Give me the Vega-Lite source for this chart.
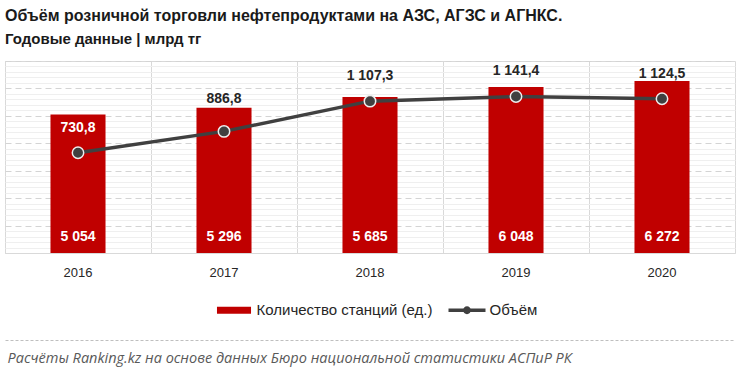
{
  "$schema": "https://vega.github.io/schema/vega-lite/v6.json",
  "width": 730,
  "height": 192,
  "autosize": {"type": "none"},
  "padding": {"left": 5, "top": 61, "right": 5, "bottom": 127},
  "background": "white",
  "title": {
    "text": "Объём розничной торговли нефтепродуктами на АЗС, АГЗС и АГНКС.",
    "subtitle": "Годовые данные | млрд тг",
    "anchor": "start",
    "frame": "group",
    "font": "Liberation Sans",
    "fontSize": 16,
    "fontWeight": "bold",
    "color": "#1a1a1a",
    "subtitleFont": "Liberation Sans",
    "subtitleFontSize": 15,
    "subtitleFontWeight": "bold",
    "subtitleColor": "#1a1a1a",
    "subtitlePadding": 8,
    "offset": 14
  },
  "data": {
    "values": [
      {"year": "2016", "stations": 5054, "volume": 730.8},
      {"year": "2017", "stations": 5296, "volume": 886.8},
      {"year": "2018", "stations": 5685, "volume": 1107.3},
      {"year": "2019", "stations": 6048, "volume": 1141.4},
      {"year": "2020", "stations": 6272, "volume": 1124.5}
    ]
  },
  "layer": [
    {
      "mark": {"type": "bar", "width": {"band": 0.377}},
      "encoding": {
        "x": {
          "field": "year", "type": "nominal",
          "scale": {"paddingInner": 0, "paddingOuter": 0},
          "axis": {"orient": "bottom", "title": null, "labelAngle": 0, "labelFontSize": 13, "labelColor": "#262626", "labelPadding": 13, "ticks": false, "domainColor": "#d9d9d9", "grid": false}
        },
        "y": {
          "field": "stations", "type": "quantitative",
          "scale": {"domain": [0, 7000], "nice": false, "zero": true},
          "axis": {"orient": "left", "title": null, "labels": false, "ticks": false, "domain": false, "grid": true, "values": [1000, 2000, 3000, 4000, 5000, 6000, 7000], "gridDash": [6, 4], "gridColor": "#d4d4d4"}
        },
        "color": {
          "datum": "Количество станций (ед.)", "type": "nominal",
          "scale": {"domain": ["Количество станций (ед.)", "Объём"], "range": ["#c00000", "#404040"]},
          "legend": {
            "orient": "none", "legendX": 210.5, "legendY": 230.5, "direction": "horizontal", "title": null,
            "labelFontSize": 15, "labelColor": "#262626", "labelLimit": 400, "symbolSize": 1369, "columnPadding": 16, "labelOffset": 4,
            "encode": {
              "symbols": {
                "update": {
                  "shape": {"signal": "datum.value === 'Объём' ? 'M-1,-0.09H1V0.09H-1Z M-0.21,0A0.21,0.21 0 1,1 0.21,0A0.21,0.21 0 1,1 -0.21,0Z' : 'M-0.92,-0.19H0.92V0.19H-0.92Z'"},
                  "fill": {"signal": "scale('color', datum.value)"},
                  "stroke": {"value": "transparent"},
                  "strokeWidth": {"value": 0},
                  "opacity": {"value": 1}
                }
              }
            }
          }
        }
      }
    },
    {
      "mark": {"type": "text", "color": "white", "fontWeight": "bold", "fontSize": 14, "baseline": "middle", "dy": -16},
      "encoding": {
        "x": {
          "field": "year", "type": "nominal",
          "axis": {"orient": "bottom", "offset": 87, "labels": false, "ticks": false, "grid": false, "domainDash": [3, 2], "domainColor": "#bfbfbf",
            "title": "Расчёты Ranking.kz на основе данных  Бюро национальной  статистики АСПиР РК",
            "titleAnchor": "start", "titleFont": "Open Sans", "titleFontStyle": "italic", "titleFontWeight": "normal", "titleFontSize": 14.5, "titleColor": "#595959", "titlePadding": 11, "titleX": 2}
        },
        "y": {"datum": 0, "type": "quantitative", "scale": {"domain": [0, 7000], "nice": false}, "axis": null},
        "text": {"field": "stations", "type": "quantitative", "format": ",.0f"}
      }
    },
    {
      "mark": {"type": "line", "strokeWidth": 3.5},
      "encoding": {
        "x": {
          "field": "year", "type": "nominal",
          "axis": {"orient": "bottom", "bandPosition": 0, "labels": false, "ticks": false, "domain": false, "grid": true, "gridColor": "#d9d9d9", "title": null}
        },
        "y": {
          "field": "volume", "type": "quantitative",
          "scale": {"domain": [0, 1400], "nice": false},
          "axis": {"orient": "right", "title": null, "labels": false, "ticks": false, "domain": false, "grid": true, "gridColor": "#efefef",
            "values": [40, 80, 120, 160, 240, 280, 320, 360, 440, 480, 520, 560, 640, 680, 720, 760, 840, 880, 920, 960, 1040, 1080, 1120, 1160, 1240, 1280, 1320, 1360]}
        },
        "color": {"datum": "Объём", "type": "nominal"}
      }
    },
    {
      "mark": {"type": "circle", "size": 130, "fill": "#404040", "stroke": "#eeeeee", "strokeWidth": 1.5, "opacity": 1},
      "encoding": {
        "x": {"field": "year", "type": "nominal", "axis": null},
        "y": {"field": "volume", "type": "quantitative", "scale": {"domain": [0, 1400], "nice": false}, "axis": null}
      }
    },
    {
      "transform": [{"filter": "datum.year !== '2017'"}],
      "mark": {"type": "text", "fontWeight": "bold", "fontSize": 14, "baseline": "middle", "dy": -25},
      "encoding": {
        "x": {"field": "year", "type": "nominal", "axis": null},
        "y": {"field": "volume", "type": "quantitative", "scale": {"domain": [0, 1400], "nice": false}, "axis": null},
        "text": {"field": "volume", "type": "quantitative", "format": ",.1f"},
        "color": {"condition": {"test": "datum.year === '2016'", "value": "white"}, "value": "#262626"}
      }
    },
    {
      "transform": [{"filter": "datum.year === '2017'"}],
      "mark": {"type": "text", "fontWeight": "bold", "fontSize": 14, "baseline": "middle", "dy": -32, "color": "#262626"},
      "encoding": {
        "x": {"field": "year", "type": "nominal", "axis": null},
        "y": {"field": "volume", "type": "quantitative", "scale": {"domain": [0, 1400], "nice": false}, "axis": null},
        "text": {"field": "volume", "type": "quantitative", "format": ",.1f"}
      }
    }
  ],
  "resolve": {"scale": {"y": "independent"}, "axis": {"x": "independent", "y": "independent"}},
  "config": {
    "font": "Liberation Sans",
    "view": {"stroke": "#d9d9d9"},
    "locale": {"number": {"decimal": ",", "thousands": " ", "grouping": [3], "currency": ["", ""]}}
  }
}
